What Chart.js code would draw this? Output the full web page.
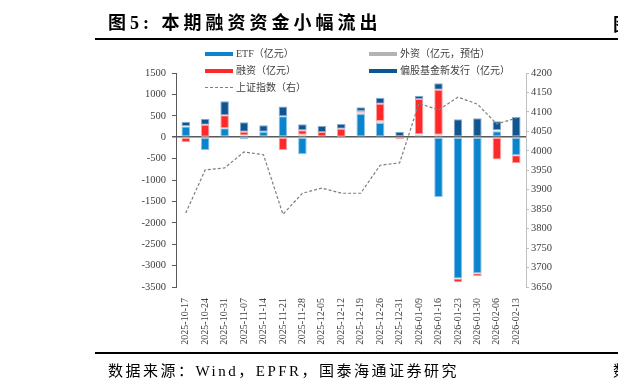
<!DOCTYPE html>
<html>
<head>
<meta charset="utf-8">
<script src="https://cdn.jsdelivr.net/npm/chart.js@4.4.1/dist/chart.umd.min.js"></script>
<style>
  body { margin: 0; width: 618px; height: 390px; overflow: hidden; background: #fff; position: relative; }
  #flow-chart { position: absolute; left: 0; top: 0; }
  .title { position: absolute; left: 108px; top: 8px; font: bold 18px "Liberation Serif", "Noto Sans CJK SC", serif; letter-spacing: 4px; color: #000; white-space: nowrap; }
  .cut { position: absolute; left: 613px; white-space: nowrap; color: #000; }
  .rule { position: absolute; left: 95px; width: 523px; background: #000; }
  .source { position: absolute; left: 108px; top: 359px; font: 15px "Liberation Serif", "Noto Sans CJK SC", serif; letter-spacing: 2.5px; color: #000; white-space: nowrap; }
  .lg { position: absolute; font: 10px "Liberation Serif", "Noto Sans CJK SC", serif; color: #404040; white-space: nowrap; line-height: 12px; }
  .sw { position: absolute; width: 28px; height: 4px; }
  .dash { position: absolute; width: 28px; border-top: 1px dashed #7f7f7f; }
</style>
</head>
<body>
<canvas id="flow-chart" width="618" height="390"></canvas>

<div class="title">图5:&nbsp;本期融资资金小幅流出</div>
<div class="cut" style="top:10px;font:bold 18px 'Noto Sans CJK SC';">图</div>
<div class="rule" style="top:38px;height:2px;"></div>

<!-- legend -->
<div class="sw" style="left:205px;top:52px;background:#0a84cc;"></div>
<div class="lg" style="left:236px;top:48px;">ETF（亿元）</div>
<div class="sw" style="left:369px;top:52px;background:#b3b3b3;"></div>
<div class="lg" style="left:400px;top:48px;">外资（亿元，预估）</div>
<div class="sw" style="left:205px;top:69px;background:#fe2a2a;"></div>
<div class="lg" style="left:236px;top:65px;">融资（亿元）</div>
<div class="sw" style="left:369px;top:69px;background:#0f5591;"></div>
<div class="lg" style="left:400px;top:65px;">偏股基金新发行（亿元）</div>
<div class="dash" style="left:205px;top:87px;"></div>
<div class="lg" style="left:236px;top:82px;">上证指数（右）</div>

<div class="rule" style="top:352px;height:2px;"></div>
<div class="source">数据来源：Wind，EPFR，国泰海通证券研究</div>
<div class="cut" style="top:359px;font:15px 'Noto Sans CJK SC';">数</div>

<script>
// weekly dates
const dates = [
  "2025-10-17", "2025-10-24", "2025-10-31", "2025-11-07", "2025-11-14", "2025-11-21",
  "2025-11-28", "2025-12-05", "2025-12-12", "2025-12-19", "2025-12-26", "2025-12-31",
  "2026-01-09", "2026-01-16", "2026-01-23", "2026-01-30", "2026-02-06", "2026-02-13"
];

// flows, 亿元
const etfFlow = [250, -300, 210, -50, 130, 490, -400, -20, -20, 540, 330, 20, 30, -1400, -3300, -3180, 140, -420];
const foreignFlow = [10, 10, 0, 40, 0, 0, 60, 0, 10, 30, 50, 0, 40, 60, 0, 0, 20, 0];
const marginFlow = [-120, 280, 300, 90, 0, -300, 100, 120, 190, 40, 400, -50, 820, 1050, -90, -70, -520, -190];
const newFundFlow = [100, 140, 330, 220, 150, 230, 140, 140, 110, 90, 140, 110, 80, 150, 420, 440, 210, 470];

// SSE composite (right axis)
const sseIndex = [3840, 3951, 3956, 3997, 3990, 3837, 3891, 3904, 3891, 3891, 3963, 3969, 4122, 4105, 4138, 4120, 4069, 4084];

const FONT = "'Liberation Serif', 'Noto Sans CJK SC', serif";
const TICK_COLOR = "#404040";

const barSet = (label, data, color, edge) => ({
  type: "bar",
  label: label,
  data: data,
  backgroundColor: color,
  borderColor: edge,
  borderWidth: 1,
  borderSkipped: false,
  yAxisID: "y",
  order: 1,
  barPercentage: 0.44,
  categoryPercentage: 1,
});

// plain numbers, no thousands separator
const plain = (value) => String(value);

const ctx = document.getElementById("flow-chart").getContext("2d");

new Chart(ctx, {
  data: {
    labels: dates,
    datasets: [
      {
        type: "line",
        label: "上证指数（右）",
        data: sseIndex,
        yAxisID: "y1",
        borderColor: "#7f7f7f",
        borderWidth: 1.2,
        borderDash: [3, 2],
        pointRadius: 0,
        tension: 0,
        fill: false,
        order: 0,
      },
      barSet("ETF（亿元）", etfFlow, "#0a84cc", "#8cc5ea"),
      barSet("外资（亿元，预估）", foreignFlow, "#b3b3b3", "#dcdcdc"),
      barSet("融资（亿元）", marginFlow, "#fe2a2a", "#ffa3a3"),
      barSet("偏股基金新发行（亿元）", newFundFlow, "#0f5591", "#8aaacb"),
    ],
  },
  options: {
    responsive: false,
    animation: false,
    layout: {
      padding: { top: 73, right: 0, bottom: 0, left: 0 },
    },
    plugins: {
      legend: { display: false },
      tooltip: { enabled: false },
    },
    scales: {
      x: {
        stacked: true,
        grid: { display: false },
        border: { display: false },
        ticks: {
          autoSkip: false,
          maxRotation: 90,
          minRotation: 90,
          padding: 3,
          color: TICK_COLOR,
          font: { family: FONT, size: 10 },
        },
        afterFit: function (scale) {
          scale.height = 103;
        },
      },
      y: {
        stacked: true,
        position: "left",
        min: -3500,
        max: 1500,
        z: 1,
        border: { display: true, color: "#595959", width: 1 },
        grid: {
          drawOnChartArea: true,
          color: (c) => (c.tick && c.tick.value === 0 ? "#595959" : "rgba(0,0,0,0)"),
          lineWidth: (c) => (c.tick && c.tick.value === 0 ? 1.5 : 1),
          tickColor: "#595959",
          tickLength: 4,
        },
        ticks: {
          stepSize: 500,
          padding: 6,
          color: TICK_COLOR,
          font: { family: FONT, size: 10.5 },
          callback: plain,
        },
        afterFit: function (scale) {
          scale.width = 176;
        },
      },
      y1: {
        position: "right",
        min: 3650,
        max: 4200,
        border: { display: true, color: "#bfbfbf", width: 1 },
        grid: {
          drawOnChartArea: false,
          tickColor: "#bfbfbf",
          tickLength: 3,
        },
        ticks: {
          stepSize: 50,
          padding: 2,
          color: TICK_COLOR,
          font: { family: FONT, size: 10.5 },
          callback: plain,
        },
        afterFit: function (scale) {
          scale.width = 92;
        },
      },
    },
  },
});
</script>
</body>
</html>
